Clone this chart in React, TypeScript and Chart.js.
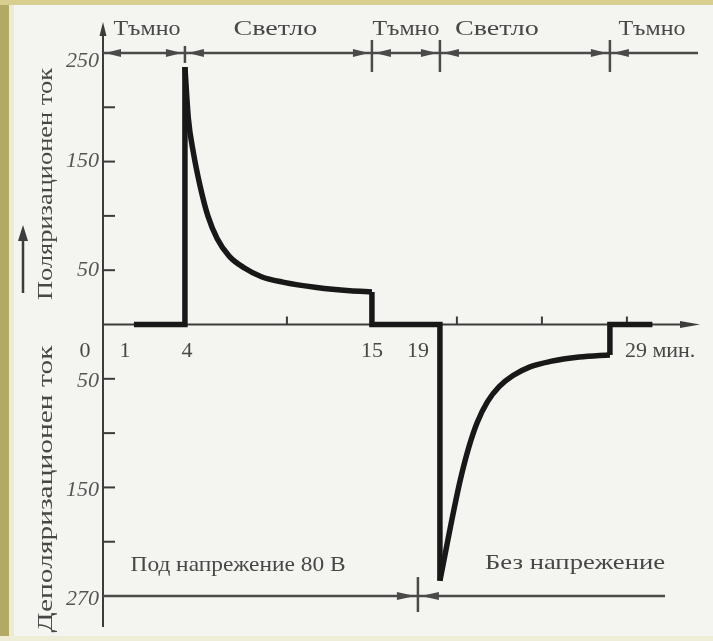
import { useEffect, useRef } from 'react';
import { Chart, registerables } from 'chart.js';

Chart.register(...registerables);

// Time axis (minutes)
const minuteTicks = [0, 1, 4, 15, 19, 29];
const minuteTickLabels = ['0', '1', '4', '15', '19', '29 мин.'];
const minorMinuteTicks = [10, 20, 25, 30];

// Current axis: up = polarisation, down = depolarisation
const currentTicks = [250, 150, 50, -50, -150, -250];
const currentTickLabels = ['250', '150', '50', '50', '150', '270'];
const minorCurrentTicks = [200, 100, -100, -200];

// Light / dark phases along the top
const phaseNames = ['Тъмно', 'Светло', 'Тъмно', 'Светло', 'Тъмно'];
const phaseBounds = [4, 15, 19, 29];

// Voltage regime along the bottom
const voltageNames = ['Под напрежение 80 В', 'Без напрежение'];
const voltageOffAt = 19;

// Measured current
const recordStart = 1;
const recordEnd = 31.5;
const polarTimes = [4, 4.2, 4.5, 4.9, 5.35, 5.9, 6.6, 7.5, 8.5, 9.75, 11.75, 13.7, 15];
const polarCurrent = [237, 190, 158, 127, 100, 79, 63, 52, 44, 39, 34, 31, 30];
const depolarTimes = [19, 19.3, 19.7, 20.2, 20.7, 21.2, 21.8, 22.5, 23.3, 24.3, 25.5, 27.2, 29];
const depolarCurrent = [-236, -212, -180, -143, -113, -90, -71, -57, -47, -39, -34, -30, -28];

const INK = '#181818';
const AXIS = '#3c3c3c';
const TEXT = '#474747';
const SERIF = '"Liberation Serif", "Times New Roman", serif';

type Opts = { align?: CanvasTextAlign; fit?: number; stretch?: number; angle?: number };

function text(ctx: CanvasRenderingContext2D, s: string, x: number, y: number, font: string, color: string, o: Opts = {}) {
  ctx.save();
  ctx.font = font;
  const w = ctx.measureText(s).width;
  const sx = o.fit ? o.fit / w : o.stretch ?? 1;
  ctx.translate(x, y);
  if (o.angle) ctx.rotate(o.angle);
  ctx.scale(sx, 1);
  ctx.fillStyle = color;
  ctx.textAlign = o.align ?? 'center';
  ctx.textBaseline = 'middle';
  ctx.fillText(s, 0, 0);
  ctx.restore();
}

function head(ctx: CanvasRenderingContext2D, tx: number, ty: number, dir: 'left' | 'right' | 'up', len: number, half: number) {
  ctx.beginPath();
  ctx.moveTo(tx, ty);
  if (dir === 'right') {
    ctx.lineTo(tx - len, ty - half);
    ctx.lineTo(tx - len, ty + half);
  } else if (dir === 'left') {
    ctx.lineTo(tx + len, ty - half);
    ctx.lineTo(tx + len, ty + half);
  } else {
    ctx.lineTo(tx - half, ty + len);
    ctx.lineTo(tx + half, ty + len);
  }
  ctx.closePath();
  ctx.fill();
}

function line(ctx: CanvasRenderingContext2D, x1: number, y1: number, x2: number, y2: number) {
  ctx.beginPath();
  ctx.moveTo(x1, y1);
  ctx.lineTo(x2, y2);
  ctx.stroke();
}

const paperPlugin = {
  id: 'paper',
  beforeDraw(chart: Chart) {
    const { ctx, width, height } = chart;
    ctx.save();
    ctx.fillStyle = '#f4f4f1';
    ctx.fillRect(0, 0, width, height);
    ctx.fillStyle = '#ecebd2';
    ctx.fillRect(0, 0, 14, height);
    ctx.fillStyle = '#b2a965';
    ctx.fillRect(0, 0, 9, height);
    ctx.fillStyle = '#d7ce90';
    ctx.fillRect(0, 0, width, 5);
    ctx.fillStyle = '#eeedd8';
    ctx.fillRect(0, height - 5, width, 5);
    ctx.restore();
  },
  beforeDatasetsDraw(chart: Chart) {
    const { ctx, chartArea: a } = chart;
    const xs = chart.scales.x;
    const ys = chart.scales.y;
    const X = (v: number) => xs.getPixelForValue(v);
    const Y = (v: number) => ys.getPixelForValue(v);
    const y0 = Y(0);

    ctx.save();
    ctx.strokeStyle = AXIS;
    ctx.fillStyle = AXIS;
    ctx.lineWidth = 2;

    // axes
    line(ctx, a.left, a.bottom, a.left, a.top + 6);
    head(ctx, a.left, a.top, 'up', 14, 3.5);
    line(ctx, a.left, y0, a.right - 10, y0);
    head(ctx, a.right, y0, 'right', 20, 3.5);

    // current ticks, drawn inward
    [...currentTicks.slice(1, -1), ...minorCurrentTicks].forEach((v) => line(ctx, a.left, Y(v), a.left + 12, Y(v)));
    // minute ticks, drawn upward
    minorMinuteTicks.forEach((v) => line(ctx, X(v), y0, X(v), y0 - 8));

    // current labels
    currentTicks.forEach((v, i) => {
      const dy = i === 0 ? 9 : v < 0 ? 3 : 0;
      text(ctx, currentTickLabels[i], a.left - 4, Y(v) + dy, 'italic 21px ' + SERIF, '#555', { align: 'right', stretch: 1.05 });
    });

    // minute labels
    const shift = [-32, -9, 2, 0, -22, 15];
    minuteTicks.forEach((v, i) => {
      const last = i === minuteTicks.length - 1;
      text(ctx, minuteTickLabels[i], X(v) + shift[i], y0 + 27, '22px ' + SERIF, TEXT, { align: last ? 'left' : 'center' });
    });

    // axis titles
    text(ctx, 'Поляризационен ток', 46, 184, '22px ' + SERIF, TEXT, { angle: -Math.PI / 2, fit: 232 });
    text(ctx, 'Деполяризационен ток', 46, 489, '22px ' + SERIF, TEXT, { angle: -Math.PI / 2, fit: 287 });
    ctx.lineWidth = 2.5;
    line(ctx, 23, 293, 23, 238);
    head(ctx, 23, 225, 'up', 16, 5);

    // light / dark phases
    const hy = Y(250);
    const hEnd = 698;
    ctx.lineWidth = 2.5;
    ctx.strokeStyle = '#4a4a4a';
    ctx.fillStyle = '#4a4a4a';
    line(ctx, a.left, hy, hEnd, hy);
    phaseBounds.forEach((b, i) => {
      const up = i === 0 ? 7 : 13;
      const dn = i === 0 ? 10 : 19;
      line(ctx, X(b), hy - up, X(b), hy + dn);
    });
    const nudge = [3, -3, 0, -28, -2];
    phaseNames.forEach((name, i) => {
      const l = i === 0 ? a.left : X(phaseBounds[i - 1]);
      const r = i === phaseNames.length - 1 ? hEnd : X(phaseBounds[i]);
      head(ctx, l + (i === 0 ? 2 : 3), hy, 'left', 16, 4);
      if (i < phaseNames.length - 1) head(ctx, r - 3, hy, 'right', 16, 4);
      text(ctx, name, (l + r) / 2 + nudge[i], 29, '22px ' + SERIF, TEXT, { fit: name === 'Тъмно' ? 67 : 84 });
    });

    // voltage regime
    const vy = Y(-250);
    const vx = X(voltageOffAt) - 22;
    line(ctx, a.left, vy, 665, vy);
    line(ctx, vx, vy - 19, vx, vy + 16);
    head(ctx, vx - 3, vy, 'right', 18, 4);
    head(ctx, vx + 3, vy, 'left', 18, 4);
    text(ctx, voltageNames[0], 238, 565, '21px ' + SERIF, TEXT, { fit: 215 });
    text(ctx, voltageNames[1], 575, 563, '21px ' + SERIF, TEXT, { fit: 180 });

    ctx.restore();
  },
};

export default function App() {
  const ref = useRef<HTMLCanvasElement>(null);

  useEffect(() => {
    const polar = polarTimes.map((t, i) => ({ x: t, y: polarCurrent[i] }));
    const depolar = depolarTimes.map((t, i) => ({ x: t, y: depolarCurrent[i] }));
    const pEnd = polar[polar.length - 1];
    const dStart = depolar[0];
    const dEnd = depolar[depolar.length - 1];

    const steps = (pts: { x: number; y: number }[]) => ({
      data: pts,
      borderColor: INK,
      borderWidth: 5.5,
      tension: 0,
      borderJoinStyle: 'miter' as const,
      borderCapStyle: 'butt' as const,
      pointRadius: 0,
    });
    const curve = (pts: { x: number; y: number }[]) => ({
      data: pts,
      borderColor: INK,
      borderWidth: 5.5,
      cubicInterpolationMode: 'monotone' as const,
      pointRadius: 0,
    });

    const chart = new Chart(ref.current!, {
      type: 'line',
      data: {
        datasets: [
          steps([{ x: recordStart, y: 0 }, { x: polar[0].x, y: 0 }, polar[0]]),
          curve(polar),
          steps([pEnd, { x: pEnd.x, y: 0 }, { x: dStart.x, y: 0 }, dStart]),
          curve(depolar),
          steps([dEnd, { x: dEnd.x, y: 0 }, { x: recordEnd, y: 0 }]),
        ],
      },
      options: {
        responsive: false,
        animation: false,
        devicePixelRatio: 1,
        layout: { padding: { left: 103, top: 22, right: 13, bottom: 14 } },
        scales: {
          x: { type: 'linear', min: -0.82, max: 34.3, display: false },
          y: { type: 'linear', min: -278.5, max: 278.5, display: false },
        },
        plugins: { legend: { display: false }, tooltip: { enabled: false } },
      },
      plugins: [paperPlugin],
    });
    return () => chart.destroy();
  }, []);

  return (
    <div style={{ position: 'fixed', left: 0, top: 0, width: 713, height: 641 }}>
      <canvas ref={ref} width={713} height={641} style={{ display: 'block' }} />
    </div>
  );
}
